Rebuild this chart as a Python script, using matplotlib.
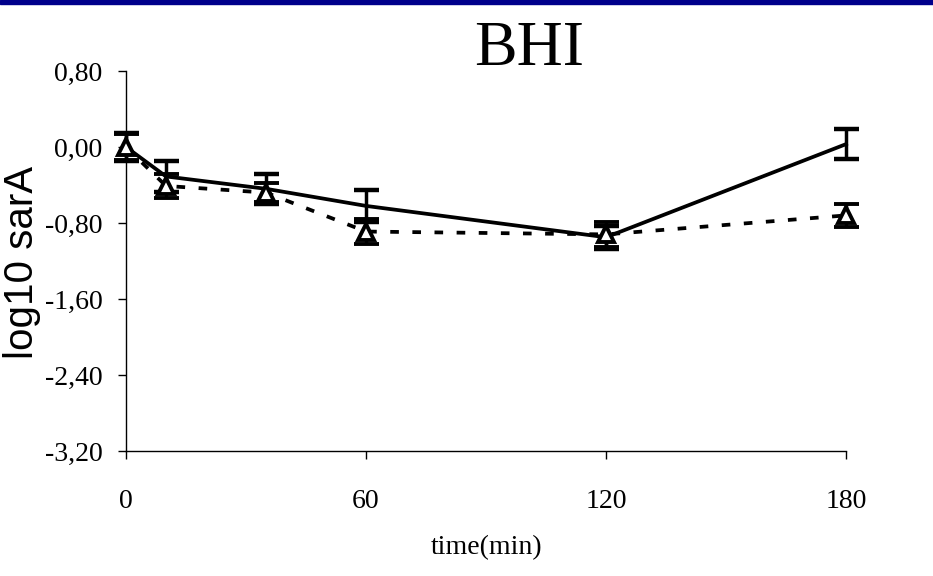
import matplotlib.pyplot as plt
from matplotlib.patches import Rectangle

# time points (min)
t = [0, 10, 35, 60, 120, 180]

# solid series
solid_y = [0.00, -0.31, -0.44, -0.62, -0.95, 0.03]
solid_err = [0.15, 0.16, 0.16, 0.17, 0.12, 0.16]

# dashed series with triangles
dash_y = [0.00, -0.41, -0.48, -0.89, -0.92, -0.72]
dash_err = [0.14, 0.13, 0.10, 0.13, 0.13, 0.12]

y_ticks = [0.80, 0.00, -0.80, -1.60, -2.40, -3.20]
x_ticks = [0, 60, 120, 180]

serif = ['Liberation Serif', 'DejaVu Serif']
sans = ['Liberation Sans', 'DejaVu Sans']

fig = plt.figure(figsize=(9.33, 5.76), dpi=100)
ax = fig.add_axes([126 / 933, 1 - 451 / 576, 720 / 933, 380 / 576])

# dark blue band on top
fig.patches.append(Rectangle((0, 1 - 4 / 576), 1, 4 / 576, transform=fig.transFigure,
                             color='#00008b', zorder=10))

ax.errorbar(t, solid_y, yerr=solid_err, color='black', lw=2.7, capsize=9,
            capthick=3.2, elinewidth=2.5, zorder=3)
ax.errorbar(t, dash_y, yerr=dash_err, color='black', lw=2.7, ls=(0, (2.3, 3.6)),
            marker='^', markersize=11, markerfacecolor='white', markeredgecolor='black',
            markeredgewidth=2.8, capsize=9, capthick=3.2, elinewidth=2.5,
            dash_capstyle='butt', zorder=4)

ax.set_xlim(0, 180)
ax.set_ylim(-3.2, 0.8)
ax.set_xticks(x_ticks)
ax.set_yticks(y_ticks)
ax.set_xticklabels([str(v) for v in x_ticks], family=serif, fontsize=20)
ax.set_yticklabels([f'{v:.2f}'.replace('.', ',') for v in y_ticks], family=serif, fontsize=20)
ax.tick_params(axis='x', direction='out', length=6, width=1, pad=21)
ax.tick_params(axis='y', direction='out', length=6, width=1, pad=11)

for s in ['top', 'right']:
    ax.spines[s].set_visible(False)
for s in ['left', 'bottom']:
    ax.spines[s].set_linewidth(1)
for art in ax.get_children():
    try:
        art.set_clip_on(False)
    except Exception:
        pass

fig.text(22 / 933, 1 - 262 / 576, 'log10 sarA', rotation=90, family=sans, fontsize=29,
         ha='center', va='center')
fig.text(487 / 933, 1 - 548 / 576, 'time(min)', family=serif, fontsize=20,
         ha='center', va='center')
fig.text(529 / 933, 1 - 50 / 576, 'BHI', family=serif, fontsize=46,
         ha='center', va='center')

fig.savefig('out.png', dpi=100)
